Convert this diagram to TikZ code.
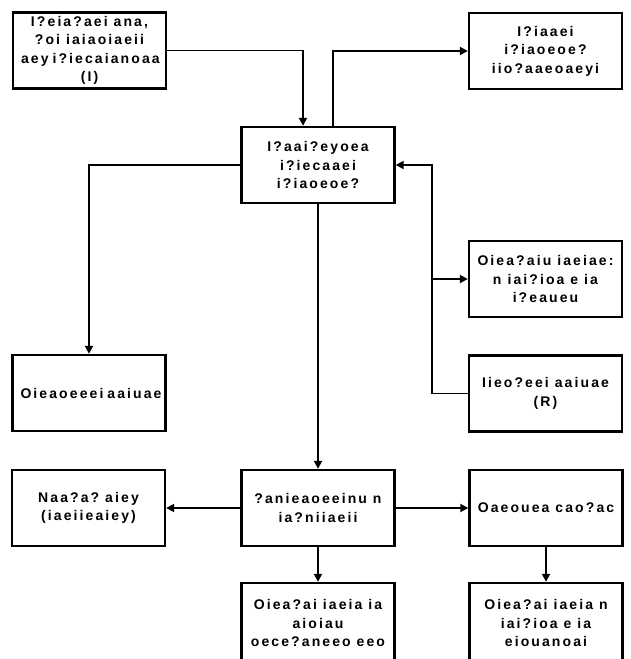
\documentclass[tikz,border=0pt]{standalone}
\usepackage{fontspec}
\setmainfont{Liberation Sans}[LetterSpace=15]
\usetikzlibrary{arrows.meta}
\newcommand\blockfont{\fontsize{14}{18.5}\selectfont\bfseries\hyphenpenalty10000\relax}

\begin{document}
\begin{tikzpicture}[x=1pt, y=-1pt, line join=miter,
  block/.style={draw, line width=2.4pt, minimum width=153pt, minimum height=76pt,
    inner xsep=8pt, text width=137pt, align=flush center, font=\blockfont},
  link/.style={line width=1.9pt, -{Triangle[length=8pt,width=8pt]}}]

\useasboundingbox (0,0) rectangle (631,659);

% --- Top row ---
\node[block] (topL) at (89.5,50.5) {I?eia?aei~ana,\\ ?oi~iaiaoiaeii\\ aey~i?iecaianoaa\\ (I)};
\node[block] (topR) at (545.5,51) {I?iaaei\\ i?iaoeoe?\\ iio?aaeoaeyi};

% --- Central box ---
\node[block] (mid) at (318,165) {I?aai?eyoea\\ i?iecaaei\\ i?iaoeoe?};

% --- Side boxes ---
\node[block] (sideR1) at (545.5,279) {Oiea?aiu~iaeiae:\\ n~iai?ioa~e~ia\\ i?eaueu};
\node[block] (sideR2) at (545.5,393.5) {Iieo?eei~aaiuae\\ (R)};
\node[block] (leftM) at (89,393) {Oieaoeeei~aaiuae};

% --- Lower row ---
\node[block] (botL) at (88.5,508) {Naa?a?~aiey\\ (iaeiieaiey)};
\node[block] (botC) at (318,508) {?anieaoeeinu~n\\ ia?niiaeii};
\node[block] (botR) at (546,508) {Oaeouea~cao?ac};

% --- Bottom row (cut by the page edge) ---
\node[block, minimum height=80pt] (lowC) at (318,623) {Oiea?ai~iaeia~ia\\ aioiau\\ oece?aneeo~eeo};
\node[block, minimum height=80pt] (lowR) at (546,623) {Oiea?ai~iaeia~n\\ iai?ioa~e~ia\\ eiouanoai};

% --- Connectors ---
\coordinate (busR) at (432,165);
\draw[link] (topL.east) -| ([xshift=-15pt]mid.north);
\draw[link] ([xshift=15pt]mid.north) |- (topR.west);
\draw[link] (mid.west) -| (leftM.north);
\draw[link] (sideR2.west) -| (busR) -- (mid.east);
\draw[link] (busR |- sideR1.west) -- (sideR1.west);
\draw[link] (mid) -- (botC);
\draw[link] (botC) -- (botL);
\draw[link] (botC) -- (botR);
\draw[link] (botC) -- (lowC);
\draw[link] (botR) -- (lowR);

\end{tikzpicture}
\end{document}
